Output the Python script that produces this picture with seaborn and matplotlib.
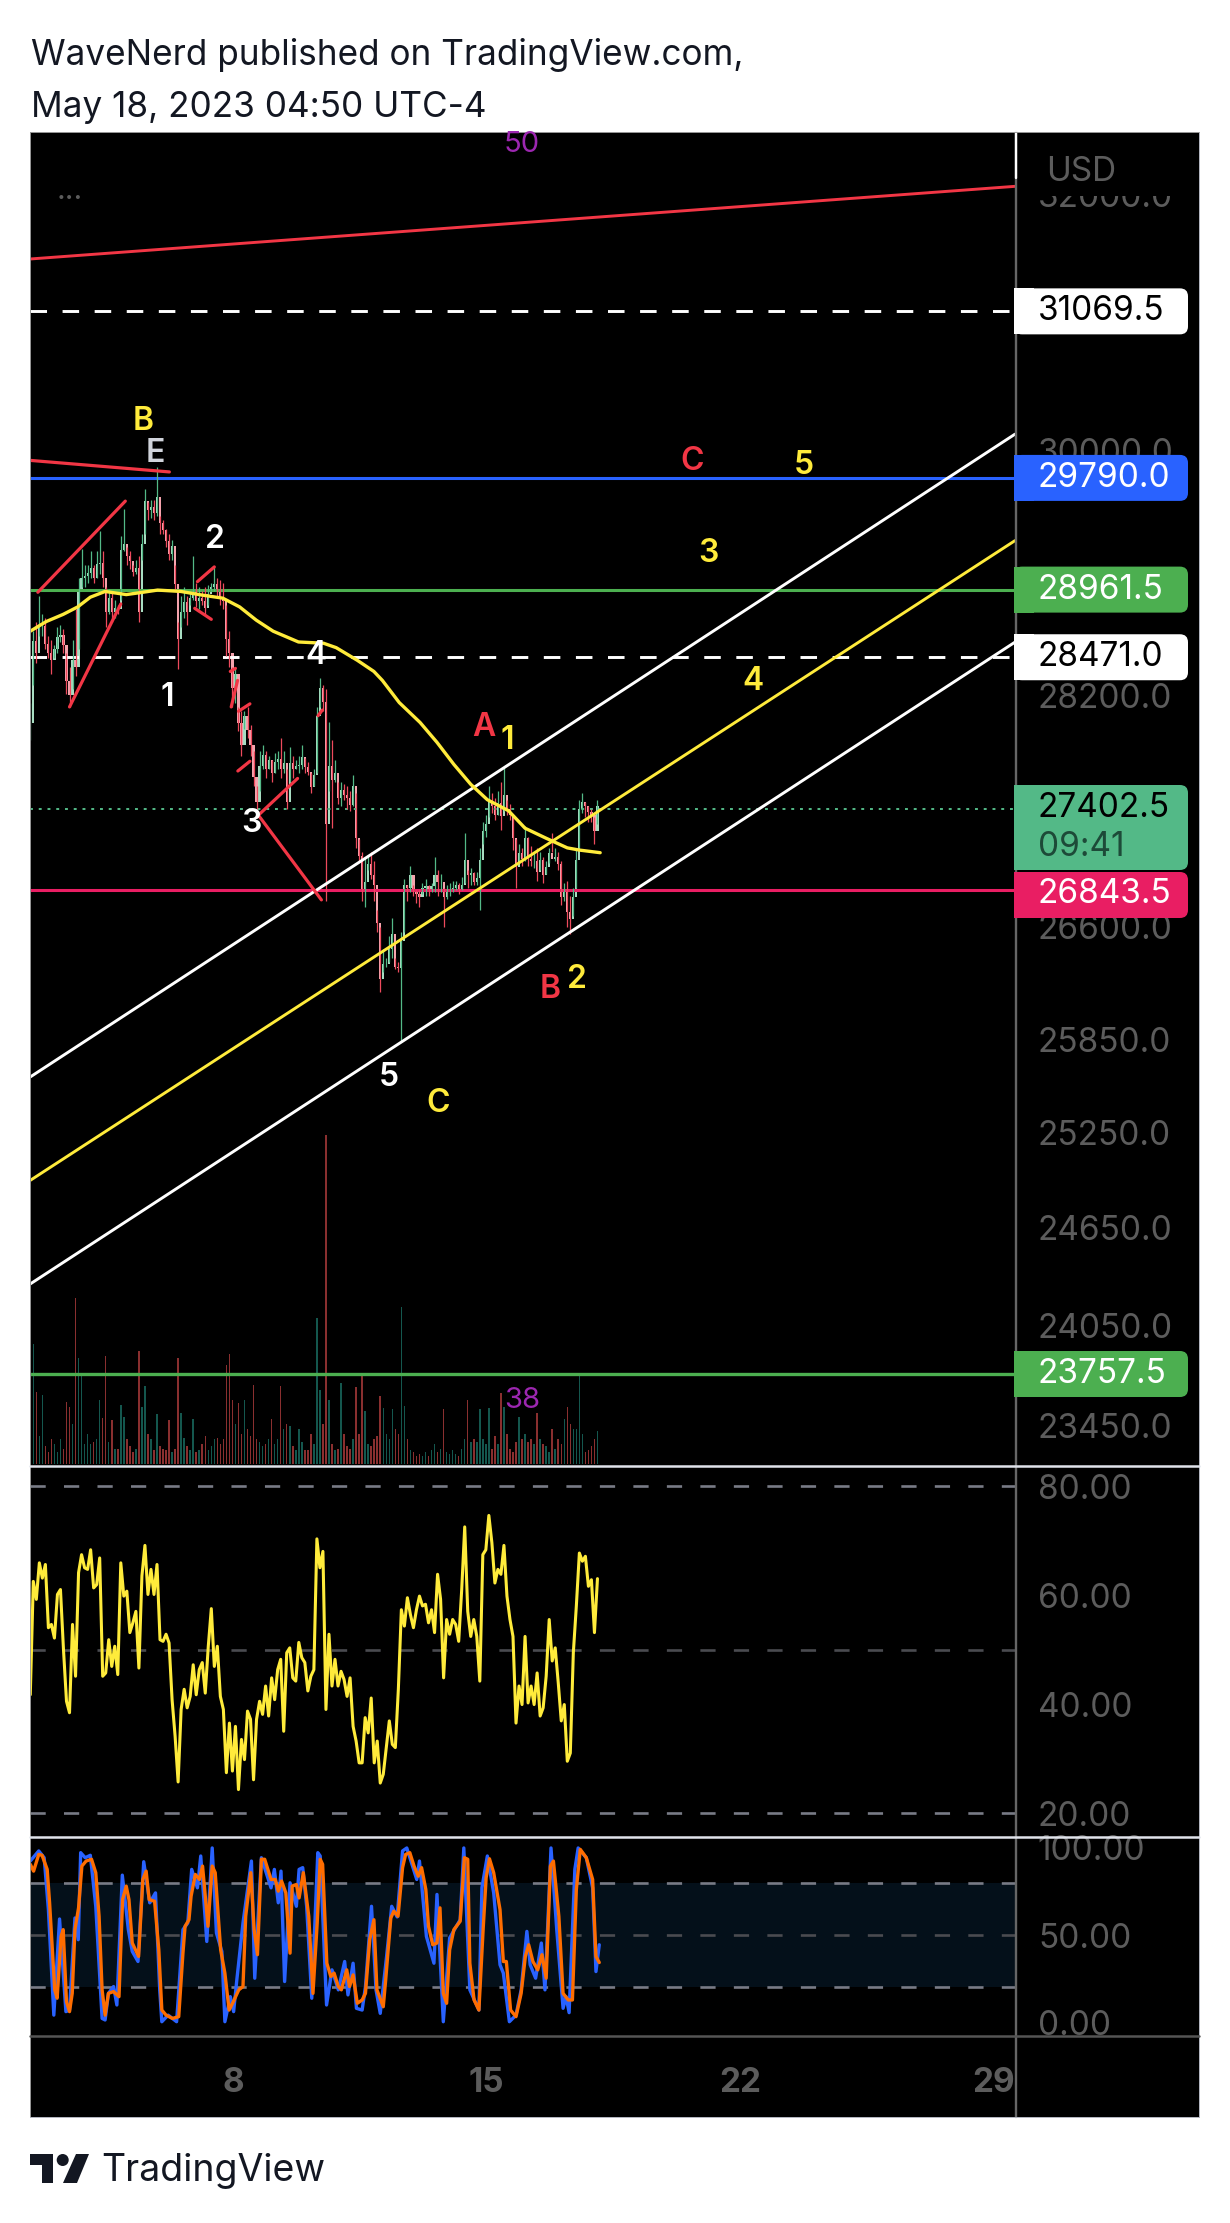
#! /usr/bin/env python
# -*- coding: utf-8 -*-
import numpy as np
import pandas as pd
import matplotlib
matplotlib.use('Agg')
import matplotlib.pyplot as plt
import seaborn as sns
from matplotlib.patches import Rectangle, FancyBboxPatch, Polygon, Circle
from matplotlib.transforms import Affine2D
from matplotlib.ticker import NullLocator

W, H = 1230, 2223

#2 hour candles
high = [28147,28659,28723,28916,28787,28755,28626,28594,28562,28691,28707,28675,28498,28401,28594,28819,29046,29258,29144,29144,29242,29144,29242,29390,29242,28981,28965,28948,28883,28851,29358,29555,29275,29242,29144,29177,29209,29374,29705,29606,29622,29622,29872,29506,29473,29407,29374,29325,29144,28723,28916,28981,28916,28948,29209,29013,28981,28948,28981,28997,29013,29128,29046,29030,29013,28851,28659,28401,28401,28116,28085,28085,28116,27991,27804,27557,27804,27850,27804,27773,27742,27788,27804,27897,27804,27681,27835,27773,27742,27773,27850,27757,27726,27650,27681,28116,28321,28273,28241,28006,27881,27742,27588,27588,27572,27557,27527,27635,27511,27193,27103,27072,27087,27103,27042,26713,26595,26448,26389,26537,26654,26389,26359,26566,26922,26877,27012,26877,26847,26847,26892,26922,26877,26892,27072,26982,26952,26862,26877,26892,26907,26907,26892,26937,27238,26982,26997,26967,26967,27133,27313,27358,27557,27511,27480,27527,27588,27696,27465,27435,27343,27193,27163,27133,27283,27208,27148,27103,27133,27103,27072,27042,27133,27238,27133,27103,27042,26892,26907,26802,26862,27118,27465,27511,27450,27420,27404,27343,27465]
low = [27881,28273,28433,28626,28626,28530,28465,28353,28465,28498,28578,28498,28210,28116,28241,28337,28530,28981,28981,29013,29046,29013,29046,29079,28981,28691,28787,28723,28755,28787,28883,29242,29144,29111,29062,29079,28723,29177,29374,29473,29490,29473,29506,29374,29374,29275,29177,29177,28948,28385,28691,28755,28707,28851,28883,28835,28819,28851,28787,28851,28948,28948,28916,28851,28819,28481,28401,28116,28147,27944,27773,27960,27897,27773,27557,27404,27527,27681,27619,27681,27588,27650,27681,27619,27650,27404,27588,27619,27681,27650,27681,27650,27635,27511,27557,27650,28116,28085,26773,27527,27268,27588,27435,27420,27465,27404,27389,27420,27133,27042,26773,26728,26982,26922,26773,26566,26165,26299,26329,26359,26389,26314,26299,25835,26566,26773,26832,26802,26758,26728,26817,26802,26802,26832,26832,26802,26832,26595,26787,26802,26832,26847,26817,26847,26892,26862,26877,26877,26877,26713,27163,27208,27343,27374,27328,27358,27253,27389,27358,27328,27118,26862,27042,27012,27042,27012,27012,26997,26907,26982,26892,26952,27027,27103,27042,26982,26743,26773,26595,26551,26669,26862,27133,27374,27343,27313,27313,27163,27298]
close = [28000,28590,28500,28700,28700,28570,28500,28450,28530,28620,28630,28560,28300,28200,28450,28400,28950,29050,29060,29080,29120,29050,29150,29160,29050,28800,28900,28800,28830,28820,29250,29300,29210,29170,29090,29120,28800,29300,29620,29550,29570,29530,29650,29450,29400,29320,29220,29280,29000,28600,28800,28870,28800,28900,28950,28880,28900,28880,28830,28930,28980,29000,28950,28900,28880,28600,28500,28250,28350,28000,27850,28050,27950,27850,27620,27450,27700,27780,27680,27740,27650,27730,27750,27680,27720,27450,27720,27680,27700,27710,27760,27690,27660,27550,27640,28050,28250,28150,27300,27700,27600,27650,27480,27530,27500,27480,27430,27560,27200,27080,26850,26900,27020,26950,26880,26620,26250,26350,26350,26450,26550,26330,26320,26500,26880,26860,26950,26840,26820,26800,26860,26870,26830,26870,26950,26900,26900,26800,26840,26840,26860,26880,26850,26880,27050,26950,26960,26900,26930,27050,27250,27300,27450,27420,27360,27440,27350,27500,27400,27360,27200,27000,27100,27060,27200,27060,27040,27040,26970,27050,26950,27000,27100,27060,27070,27020,26800,26850,26700,26650,26800,27050,27400,27450,27420,27380,27360,27250,27420]
volume = [37,120,72,28,69,18,12,25,20,12,25,15,62,57,40,166,106,89,20,30,20,22,25,64,46,108,22,44,15,15,59,47,25,18,12,15,113,57,78,30,25,14,50,18,15,14,44,12,15,106,51,26,18,14,45,12,14,20,28,14,18,25,26,20,25,99,110,64,40,61,30,64,35,28,79,25,22,18,20,25,45,20,25,78,35,40,38,18,14,35,22,14,14,30,20,146,74,40,329,64,20,14,15,81,30,18,15,25,77,30,89,53,20,18,25,28,68,56,30,25,55,35,30,157,58,25,14,12,8,10,8,12,8,14,20,12,15,55,12,10,14,10,8,15,25,64,22,25,22,55,25,20,56,15,28,20,71,57,30,15,12,22,47,25,30,22,25,20,51,25,20,18,12,35,15,25,20,45,57,40,35,35,89,30,12,14,18,25,33]

#yellow moving average (bar number, price)
ma_bar = [0,5.3,10.9,15.7,19.9,24.8,31.8,37.3,42.2,49.9,56.8,63.8,69.4,74.9,80.5,88.9,97.2,101.4,108.4,113.9,116.7,122.3,129.2,134.8,140.4,146,151.5,158.5,164,171,178,182,188.9]
ma_price = [28659,28729,28781,28835,28906,28948,28925,28942,28958,28948,28922,28899,28835,28739,28659,28581,28572,28540,28449,28369,28305,28147,28006,27866,27711,27572,27465,27389,27268,27199,27133,27118,27100]

#rsi, one value per bar
rsi = [41.7,62.5,59.2,65.9,63.1,65.6,54,54.6,52.1,60.1,61,50,40.5,38.4,54.6,45.1,64.1,67.4,65,64.7,68.3,61.3,61.9,66.8,45.1,45.7,51.8,46.9,50.6,45.4,65.9,59.8,60.7,53.1,54.9,57,46.6,63.5,69.1,60.1,64.7,60.1,65.6,51.8,51.5,52.8,51.2,40.8,34.1,25.7,39,42.7,39.3,41.4,47.2,41.7,46.3,47.6,42,50.6,57.5,46.9,50.6,41.4,39,27.4,36.5,27.7,35.9,24.3,33.5,29.8,38.7,37.2,26.1,37.2,40.5,38.1,43.3,37.8,44.8,40.8,46.3,48.2,35,49.4,50.3,44.8,44.2,51.3,48.5,47.6,42.4,45.1,46.3,70.3,65,68,39,52.8,43.3,48.2,43.3,46,44.5,41.4,44.8,35.9,33.2,29.2,29.2,37.5,34.7,41.1,29.2,33.2,25.5,27.1,32,36.9,32.6,32,42.7,57.3,54.3,59.5,56.4,54,57.3,59.8,58,58.3,54.9,57.3,53.1,63.8,59.2,44.8,55.5,52.8,55.5,54.6,51.5,61,72.5,57,52.4,55.5,52.4,44.2,67.4,68.3,74.6,69.6,62.2,64.7,63.8,69.1,59.8,55.5,52.4,36.5,43.3,39.9,52.4,40.2,43.3,39.9,45.7,37.8,39.3,45.1,55.5,47.9,50.3,43.9,36.9,39.9,29.5,31,49.4,58,67.7,66.2,67.1,61.6,62.8,53.1,63]

#stochastic, turning points only
k_bar = [0,2.8,4.6,6,7.8,9.7,11.8,13,14.8,15.9,16.7,18.2,19.9,21.7,23.8,24.8,25.9,27.6,28.7,30.5,32.5,33.8,35.7,37.6,39.6,41.5,42.9,43.6,45.7,48.5,50.6,52.2,53.5,55.4,56.5,58.5,60.3,61.7,63.5,64.5,66.3,67.4,68.4,70.5,73.3,74.4,76.6,79.8,80.9,82.2,83.1,84.3,86.1,88.2,89.1,90.3,91.6,93.3,95.3,96.1,98.2,100,102.1,104.2,105.3,107,108.1,110,111.1,113.1,114.6,116,118.1,119.8,121.6,123.4,124.8,128.1,129,131.3,133.8,134.8,136.9,139,142.5,143.7,145.7,148.7,149.7,151.5,153.6,155.7,156.8,158.8,161,162.7,164.6,165.7,167.5,169.4,170.6,172.6,174.5,176.6,177.6,178.6,180.5,181.6,184.3,186.4,187.5,188.6]
k_val = [92.5,98.3,94.4,64.6,4,59.2,6,6.9,59.8,47.3,97.3,94.4,95.8,66.5,2.1,1.2,16.5,20.4,9.8,84.4,53.1,40.6,34.8,92.1,68.5,74.2,18.5,0.2,4,0.2,53.1,56.9,87.7,77.1,95.4,46.3,100,51.2,40.6,0.2,14.6,6,23.3,56.9,92.5,25.2,94.4,77.1,87.7,68.5,86.7,23.3,80,66.5,87.7,88.7,66.5,13.7,97.3,95.4,9.8,30,18.5,34.8,15.6,33.8,7.9,6.9,20.4,66.5,18.5,5,37.7,66.5,60.4,98.3,100,81.9,92.5,49.2,33.8,73.3,0.2,48.3,58.8,100,18.5,6.9,77.1,95.4,74.2,32.9,28.1,0.2,4,18.5,52.1,32.9,25.2,45.4,18.5,100,53.1,7.9,14.6,5.4,87.7,100,94.4,77.1,29,44.4]
d_bar = [0,1.1,2.8,3.9,5.6,6.4,8.1,8.9,10.2,10.9,12,13,13.9,14.8,16,17.1,18.5,20.3,21.7,22.8,23.8,24.8,25.9,27.6,29.4,30.6,31.8,32.7,33.8,35.9,37.3,38.4,39.4,41.2,42.6,43.6,45,47.1,49.2,50.6,51.3,52.6,53.3,54.7,56.1,57.1,58.9,60.3,61.3,63.1,64.5,65.9,67.3,69.1,70.5,71.4,73.1,74.2,75.3,76.6,77.7,79.8,81.2,82.2,83.3,84.7,86.1,86.8,88.2,89.1,90.5,92.3,93.7,95.1,96.1,96.9,98.3,99.6,100.7,102.1,103.1,104.9,105.8,107,108.4,110,111.1,112.5,113.9,114.9,117,117.8,119.5,120.5,121.9,123.4,124.4,125.8,127.2,128.6,129.7,131.1,132,133.4,134.8,135.8,136.9,138,139,140.4,142.5,143.9,145,145.7,147.1,148.7,150.1,151.1,152.2,153.6,155.7,156.8,157.8,159.2,161,162.7,164.1,165.2,166.6,168.2,169.6,171,172.4,173.4,175.2,176.6,178.3,179.7,181,182.3,184.3,186.4,187.5,188.6]
d_val = [90.6,86.7,96.3,95.8,87.7,68.5,18.5,13.7,49.2,53.1,11.7,6,16.5,53.1,65.6,89.6,92.5,93.5,85.8,60.8,18.5,4,16.5,17.5,14.6,70.4,78.1,70.4,45.4,37.7,81.9,86.7,70.4,69.4,41.5,6.9,4,2.1,3.1,39.6,55,58.8,72.3,84.8,81.9,89.6,55,89.6,85.8,41.5,28.1,6.9,11.7,18.5,20.4,60.8,85.8,53.1,38.7,93.5,93.5,81.9,81.9,75.2,81,74.2,39.6,78.1,79,71.3,85.8,60.8,16.5,56.9,93.5,90.6,33.8,26.2,28.1,20.4,18.5,30,20.4,27.1,10.8,12.7,16.5,47.3,58.8,18.5,8.8,24.2,59.8,63.7,60.8,88.7,96.3,97.3,89.6,83.8,88.7,76.2,55,44.4,45.4,65.6,16.5,10.8,41.5,53.1,57.9,94.4,93.5,33.8,12.7,6.9,53.1,82.9,93.8,85.8,64.6,34.8,34.8,6.9,3.1,16.5,37.7,44.4,34.8,30,38.7,25.2,89.6,92.5,60.8,16.5,12.7,12.7,76.2,99.2,94.4,81.9,37.7,34.2]

#price levels and axis labels
price_ticks = [32000, 30000, 28200, 26600, 25850, 25250, 24650, 24050, 23450]
rsi_ticks = [80, 60, 40, 20]
stoch_ticks = [100, 50, 0]
day_ticks = [8, 15, 22, 29]

#drawn channel and trend lines, (start, end) in days and prices
channel_days = [2.392, 29.6]
upper_channel = [25607, 30121]
middle_channel = [24947, 29322]
lower_channel = [24303, 28580]
top_trend = [31483, 32066]

#short red wave lines, bar numbers and prices
wave_lines = [
    ([0, 46.1], [29922, 29835]),
    ([2.5, 31.5], [28942, 29616]),
    ([13, 30], [28116, 28857]),
    ([55.4, 61], [29020, 29128]),
    ([54.5, 60], [28825, 28745]),
    ([66.6, 68.7], [28116, 28305]),
    ([66.3, 68], [28369, 28391]),
    ([69, 72.8], [28085, 28138]),
    ([68.8, 72.8], [27665, 27733]),
    ([75.6, 88.6], [27358, 27613]),
    ([75.6, 96.5], [27358, 26779]),
    ([95.4, 96.8], [28054, 28094]),
]

wave_labels = [
    ('B', 143, 421, '#ffeb3b'), ('E', 155, 454, '#d1d4dc'), ('2', 215, 539, 'white'),
    ('1', 167, 697, 'white'), ('4', 316, 655, 'white'), ('3', 251, 824, 'white'),
    ('A', 484, 727, '#f23645'), ('1', 507, 741, '#ffeb3b'), ('B', 550, 990, '#f23645'),
    ('2', 577, 980, '#ffeb3b'), ('5', 389, 1078, 'white'), ('C', 438, 1103, '#ffeb3b'),
    ('C', 692, 461, '#f23645'), ('5', 804, 465, '#ffeb3b'), ('3', 708, 553, '#ffeb3b'),
    ('4', 753, 682, '#ffeb3b'),
]

n = min(len(high), len(low), len(close), len(volume), len(rsi))
bars = pd.DataFrame({'high': high[:n], 'low': low[:n], 'close': close[:n],
                     'volume': volume[:n], 'rsi': rsi[:n]})
bars['open'] = bars['close'].shift(1).fillna(bars['close'])
bars['day'] = 2.40 + bars.index / 12
bars['up'] = bars['close'] >= bars['open']


def bar_day(b):
    return 2.40 + np.asarray(b, dtype=float) / 12


def dash(on, off, lw_px):
    return (0, (on / lw_px, off / lw_px))


sns.set_theme(style='dark', rc={'axes.facecolor': 'black', 'figure.facecolor': 'white'})
plt.rcParams['font.family'] = ['Inter', 'DejaVu Sans']

fig = plt.figure(figsize=(W / 100, H / 100), dpi=100)
px = Affine2D().scale(1 / W, -1 / H).translate(0, 1) + fig.transFigure

fig.add_artist(Rectangle((30, 132), 1169, 1985, transform=px, fc='black', ec='none', zorder=-1))


def add_panel(y0, y1):
    ax = fig.add_axes([30 / W, 1 - y1 / H, 985 / W, (y1 - y0) / H])
    ax.set_xlim(2.392, 29.6)
    for s in ax.spines.values():
        s.set_visible(False)
    ax.grid(False)
    ax.set_xticks([])
    ax.tick_params(axis='y', which='both', length=0, left=False, right=False,
                   labelleft=False, labelright=True, pad=16.5, labelsize=24, labelcolor='#5c5c5c')
    return ax


def line(ax, x, y, color, lw, **kw):
    sns.lineplot(x=x, y=y, ax=ax, color=color, linewidth=lw, estimator=None, sort=False,
                 legend=False, **kw)
    ax.set_xlabel('')
    ax.set_ylabel('')


##              MAIN PRICE PANEL                ##

ax_vol = add_panel(132, 1466)
ax_vol.set_ylim(-2, 1332)
ax_vol.set_yticks([])
ax_vol.bar(bars['day'], bars['volume'], width=0.042, linewidth=0,
           color=np.where(bars['up'], '#14574e', '#8a2f2f'))

ax = add_panel(132, 1466)
ax.patch.set_alpha(0)
ax.set_zorder(2)
ax.set_yscale('log')
ax.set_ylim(23212, 32509)

white_dash = dash(17, 16, 3)
ax.axhline(31069.5, color='white', lw=2.1, ls=white_dash)
ax.axhline(28471.0, color='white', lw=2.1, ls=white_dash)
ax.axhline(29790.0, color='#2962ff', lw=2.2)
ax.axhline(28961.5, color='#4caf50', lw=2.2)
ax.axhline(26843.5, color='#e91e63', lw=2.2)
ax.axhline(23757.5, color='#4caf50', lw=2.4)
ax.axhline(27402.5, color='#53b987', lw=1.4, ls=dash(3, 6, 2))

body_col = np.where(bars['up'], '#a8ddc2', '#f5a3ad')
wick_col = np.where(bars['up'], '#53b987', '#ee4a5d')
ax.vlines(bars['day'], bars['low'], bars['high'], colors=wick_col, lw=0.9)
ax.bar(bars['day'], (bars['close'] - bars['open']).abs(), bottom=bars[['open', 'close']].min(axis=1),
       width=0.06, color=body_col, linewidth=0)

line(ax, channel_days, upper_channel, 'white', 2.1)
line(ax, channel_days, middle_channel, '#ffeb3b', 2.1)
line(ax, channel_days, lower_channel, 'white', 2.1)
line(ax, channel_days, top_trend, '#f23645', 2.1)
line(ax, bar_day(ma_bar), ma_price, '#ffeb3b', 2.4)
for b, p in wave_lines:
    line(ax, bar_day(b), p, '#f23645', 2.3)
ax.set_yscale('log')
ax.set_ylim(23212, 32509)
ax.set_xlim(2.392, 29.6)
ax.set_xticks([])
ax.set_yticks(price_ticks)
ax.set_yticklabels(['%.1f' % p for p in price_ticks])
ax.yaxis.set_minor_locator(NullLocator())

##              RSI PANEL                ##

ax_rsi = add_panel(1466, 1837)
ax_rsi.set_ylim(15.6, 83.67)
ax_rsi.set_yticks(rsi_ticks)
ax_rsi.set_yticklabels(['%.2f' % v for v in rsi_ticks])
grey_dash = dash(15, 18, 2.6)
ax_rsi.axhline(80, color='#787b86', lw=1.9, ls=grey_dash)
ax_rsi.axhline(50, color='#4a4b50', lw=1.9, ls=grey_dash)
ax_rsi.axhline(20, color='#787b86', lw=1.9, ls=grey_dash)
line(ax_rsi, bars['day'], bars['rsi'], '#ffeb3b', 2.2)
ax_rsi.set_ylim(15.6, 83.67)
ax_rsi.set_xlim(2.392, 29.6)
ax_rsi.set_xticks([])

##              STOCHASTIC PANEL                ##

ax_st = add_panel(1837, 2036)
ax_st.set_ylim(-8, 106.3)
ax_st.set_yticks(stoch_ticks)
ax_st.set_yticklabels(['%.2f' % v for v in stoch_ticks])
ax_st.axhspan(20, 80, color='#04101a', lw=0)
ax_st.axhline(80, color='#787b86', lw=1.9, ls=grey_dash)
ax_st.axhline(50, color='#4a4b50', lw=1.9, ls=grey_dash)
ax_st.axhline(20, color='#787b86', lw=1.9, ls=grey_dash)
line(ax_st, bar_day(k_bar), k_val, '#2962ff', 2.4)
line(ax_st, bar_day(d_bar), d_val, '#ff6d00', 2.4)
ax_st.set_ylim(-8, 106.3)
ax_st.set_xlim(2.392, 29.6)
ax_st.set_xticks(day_ticks)
ax_st.set_xticklabels([str(d) for d in day_ticks], fontweight='bold')
ax_st.tick_params(axis='x', length=0, pad=22.5, labelsize=24, labelcolor='#5c5c5c', bottom=False)

##              SEPARATORS AND TAGS                ##

fig.add_artist(plt.Line2D([1016, 1016], [132, 2117], transform=px, color='#666666', lw=1.7, zorder=3))
fig.add_artist(plt.Line2D([1016, 1016], [132, 178], transform=px, color='white', lw=1.7, zorder=3))
fig.add_artist(plt.Line2D([30, 30], [132, 2117], transform=px, color='#9a9a9a', lw=0.7, zorder=3))
fig.add_artist(plt.Line2D([1199, 1199], [132, 2117], transform=px, color='#b0b3bd', lw=0.7, zorder=3))
fig.add_artist(plt.Line2D([30, 1199], [132, 132], transform=px, color='#9a9a9a', lw=0.7, zorder=3))
fig.add_artist(plt.Line2D([30, 1199], [2117, 2117], transform=px, color='#b0b3bd', lw=0.7, zorder=3))
fig.add_artist(plt.Line2D([30, 1199], [1466, 1466], transform=px, color='#e0e3eb', lw=1.8, zorder=3))
fig.add_artist(plt.Line2D([30, 1199], [1837, 1837], transform=px, color='#e0e3eb', lw=1.8, zorder=3))
fig.add_artist(plt.Line2D([30, 1199], [2036, 2036], transform=px, color='#555555', lw=1.8, zorder=3))

#covers the top of the 32000 label under USD
fig.add_artist(Rectangle((1020, 134), 175, 62, transform=px, fc='black', ec='none', zorder=4))
fig.text(1046 / W, 1 - 172 / H, 'USD', fontsize=24, color='#5c5c5c', va='center', zorder=6)


def price_y(p):
    return H - ax.transData.transform((10, p))[1]


def tag(y0, y1, fc, lines):
    fig.add_artist(FancyBboxPatch((1014 + 8, y0 + 8), 174 - 16, y1 - y0 - 16, transform=px,
                                  boxstyle='round,pad=8,rounding_size=8', fc=fc, ec='none', zorder=5,
                                  mutation_aspect=1))
    fig.add_artist(Rectangle((1014, y0), 20, y1 - y0, transform=px, fc=fc, ec='none', zorder=5))
    for txt, y, col in lines:
        fig.text(1038 / W, 1 - y / H, txt, fontsize=24, color=col, va='center', zorder=7)


for price, fc, col in [(31069.5, 'white', 'black'), (29790.0, '#2962ff', 'white'),
                       (28961.5, '#4caf50', 'white'), (28471.0, 'white', 'black'),
                       (23757.5, '#4caf50', 'white')]:
    yc = price_y(price)
    tag(yc - 23, yc + 23, fc, [('%.1f' % price, yc, col)])
tag(785, 870, '#53b987', [('27402.5', 808, 'black'), ('09:41', 847, '#1d4a38')])
tag(872, 918, '#e91e63', [('26843.5', 894, 'white')])

##              TEXTS                ##

fig.text(31 / W, 1 - 65 / H, 'WaveNerd published on TradingView.com,', fontsize=25.3, color='#131722',
         va='baseline')
fig.text(31 / W, 1 - 117 / H, 'May 18, 2023 04:50 UTC-4', fontsize=25.3, color='#131722', va='baseline')

fig.text(522 / W, 1 - 145 / H, '50', fontsize=21, color='#9c27b0', ha='center', va='center', zorder=6)
fig.text(522 / W, 1 - 1400 / H, '38', fontsize=21, color='#9c27b0', ha='center', va='center', zorder=6)
fig.text(70 / W, 1 - 199 / H, '...', fontsize=22, color='#5c5c5c', ha='center', va='baseline', zorder=6)

for txt, x, y, col in wave_labels:
    fig.text(x / W, 1 - y / H, txt, fontsize=23, fontweight='semibold', color=col, ha='center', va='center', zorder=6)

#logo
logo = '#131722'
fig.add_artist(Polygon([(30, 2154), (53, 2154), (53, 2183), (42, 2183), (42, 2165), (30, 2165)],
                       transform=px, fc=logo, ec='none'))
fig.add_artist(Circle((62.7, 2160), 6, transform=px, fc=logo, ec='none'))
fig.add_artist(Polygon([(76, 2154), (89, 2154), (77, 2183), (63, 2183)], transform=px, fc=logo, ec='none'))
fig.text(101 / W, 1 - 2181 / H, 'TradingView', fontsize=27, color=logo, va='baseline')

fig.savefig('out.png', dpi=100, facecolor='white')
plt.close()
